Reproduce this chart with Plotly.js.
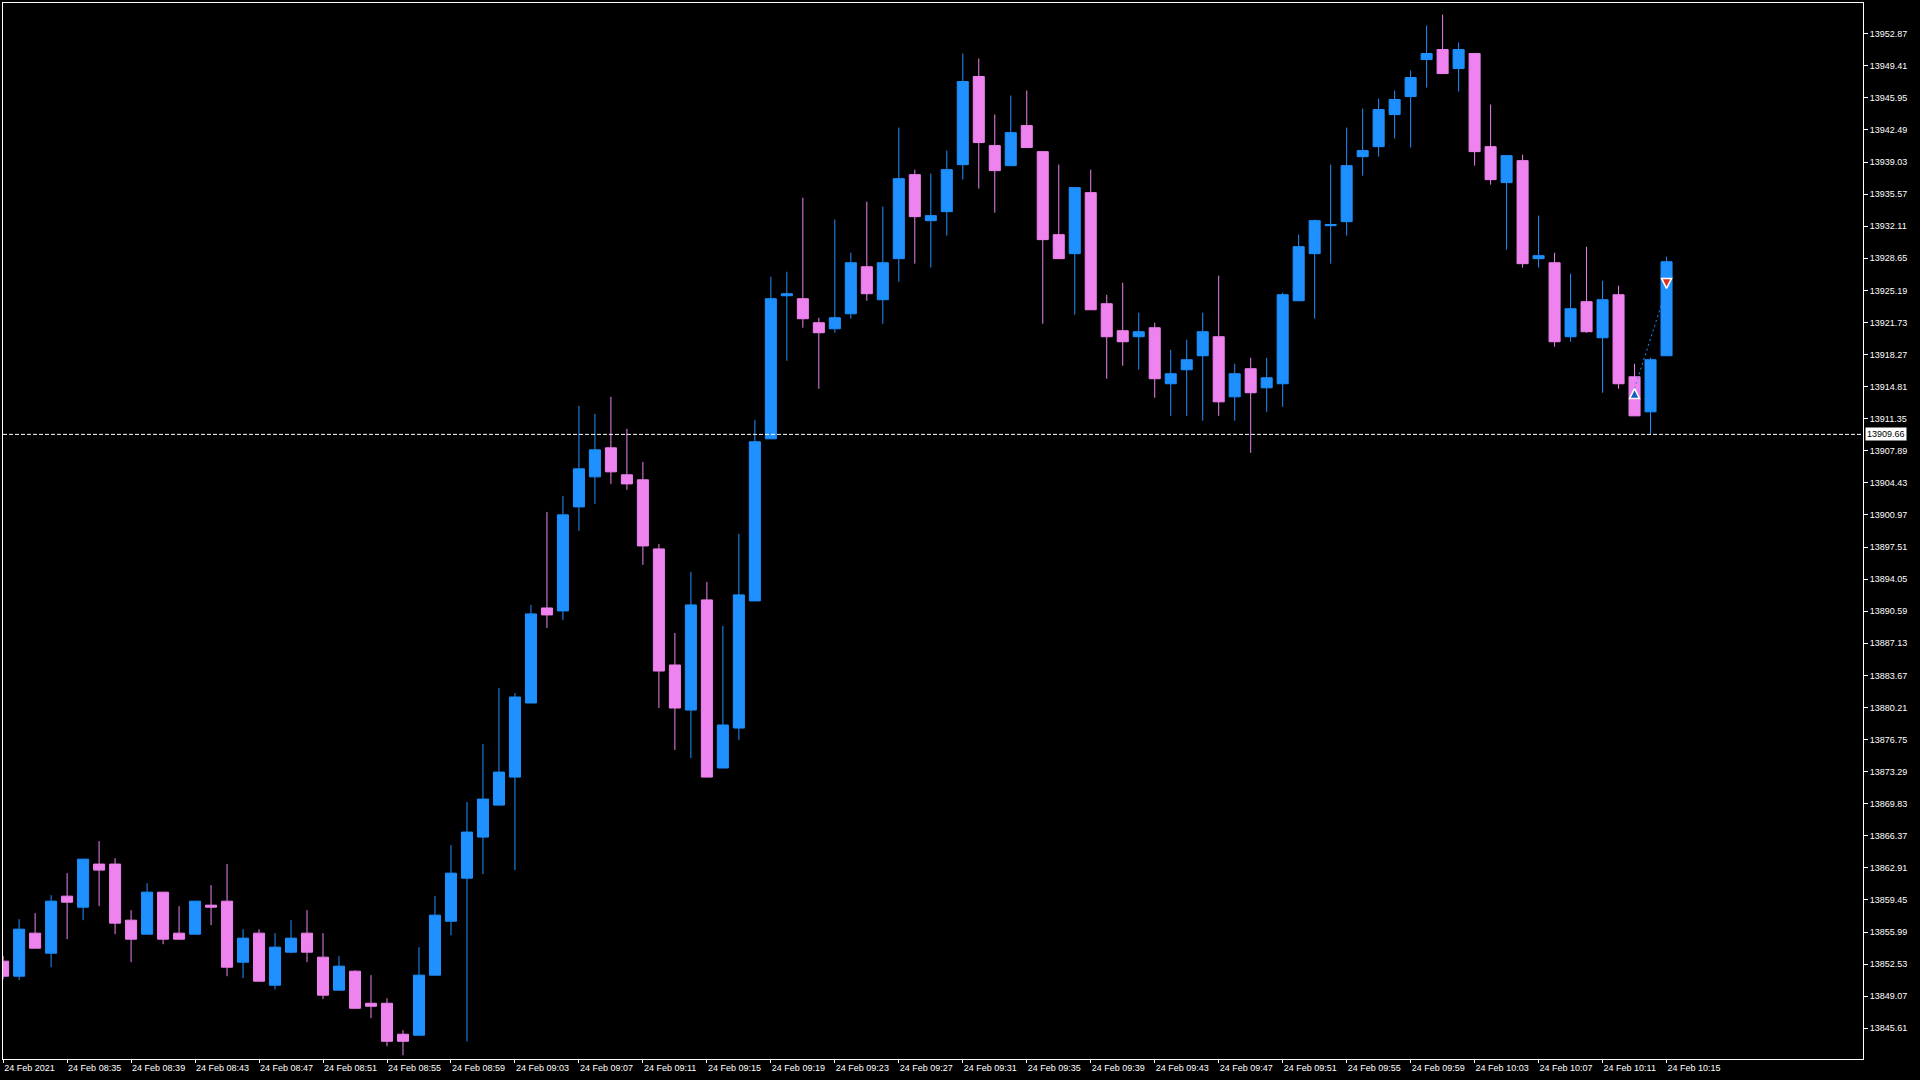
<!DOCTYPE html>
<html>
<head>
<meta charset="utf-8">
<script src="https://cdn.plot.ly/plotly-3.0.1.min.js"></script>
<style>
  html, body { margin: 0; padding: 0; background: #000; }
  #chart { width: 1920px; height: 1080px; }
</style>
</head>
<body>
<div id="chart"></div>
<script>
  // 1 minute bars, 24 Feb 2021 08:31 .. 10:15
  var startHour = 8, startMinute = 31;

  var opens = [13852.85,13851.23,13855.87,13853.71,13859.86,13858.67,13863.32,13863.32,13857.27,13855.76,
    13860.29,13855.87,13855.76,13858.89,13859.32,13852.74,13855.87,13850.26,13853.82,13855.87,
    13853.28,13849.72,13851.77,13848.31,13848.31,13844.97,13844.86,13851.34,13857.16,13861.80,
    13866.23,13869.68,13872.70,13880.69,13890.94,13890.62,13901.84,13905.08,13908.21,13905.30,
    13904.76,13897.31,13884.79,13879.93,13891.81,13873.68,13877.99,13891.70,13909.18,13924.61,
    13924.29,13921.70,13921.05,13922.67,13927.74,13924.18,13928.61,13937.67,13932.71,13933.68,
    13938.75,13948.25,13940.80,13938.64,13942.96,13940.15,13931.20,13929.15,13935.73,13923.75,
    13920.84,13920.19,13921.16,13915.12,13916.63,13918.14,13920.19,13913.71,13916.74,13914.68,
    13915.12,13924.07,13929.15,13932.17,13932.60,13939.61,13940.69,13944.15,13946.09,13950.08,
    13951.16,13949.11,13950.73,13940.69,13936.81,13939.18,13928.61,13928.17,13920.19,13923.97,
    13920.08,13924.72,13915.87,13912.09,13918.14];

  var highs = [13853.39,13857.38,13858.03,13859.97,13862.34,13863.85,13865.80,13863.96,13858.35,13861.26,
    13860.29,13858.78,13859.32,13861.05,13863.32,13856.30,13856.30,13855.87,13857.27,13858.35,
    13855.87,13853.39,13851.88,13851.34,13848.85,13845.40,13854.36,13859.86,13865.37,13870.01,
    13876.27,13882.31,13881.77,13891.27,13901.30,13903.03,13912.74,13911.88,13913.71,13910.26,
    13906.70,13897.85,13888.24,13894.83,13893.75,13889.00,13898.93,13911.23,13926.66,13927.20,
    13935.19,13922.24,13932.82,13929.25,13934.76,13934.22,13942.74,13938.21,13937.78,13940.26,
    13950.73,13950.19,13944.15,13946.20,13946.74,13940.15,13938.75,13936.27,13938.21,13924.72,
    13926.02,13922.78,13921.70,13918.79,13919.87,13922.78,13926.77,13917.28,13917.92,13917.92,
    13924.94,13931.20,13932.82,13938.75,13942.74,13944.79,13945.87,13946.74,13948.90,13953.75,
    13954.94,13951.92,13950.73,13945.23,13939.72,13939.83,13933.25,13929.25,13926.99,13929.90,
    13926.23,13925.69,13917.28,13917.92,13928.82];

  var lows = [13850.90,13850.80,13854.25,13852.20,13855.22,13857.27,13858.78,13855.76,13852.74,13855.76,
    13854.68,13855.22,13855.76,13856.73,13851.23,13851.01,13850.69,13849.82,13853.71,13852.74,
    13848.75,13849.72,13847.77,13846.70,13843.67,13842.70,13844.86,13851.34,13855.65,13844.21,
    13862.24,13869.68,13862.67,13880.69,13888.78,13889.65,13899.25,13902.17,13904.32,13903.68,
    13895.58,13880.15,13875.62,13874.75,13872.70,13873.68,13876.70,13891.70,13909.18,13917.60,
    13921.16,13914.58,13920.62,13922.13,13924.07,13921.59,13926.12,13928.07,13927.64,13931.09,
    13937.13,13936.16,13933.57,13938.64,13940.59,13921.59,13928.61,13922.56,13923.10,13915.66,
    13917.06,13916.63,13913.61,13911.66,13911.66,13911.12,13911.66,13911.12,13907.67,13912.09,
    13912.63,13924.07,13922.13,13928.07,13931.09,13937.56,13939.61,13941.56,13940.59,13947.06,
    13948.57,13946.63,13938.64,13936.59,13929.58,13927.64,13927.64,13919.11,13919.65,13920.62,
    13914.15,13914.58,13911.66,13909.61,13918.14];

  var closes = [13851.23,13856.30,13854.25,13859.32,13859.21,13863.85,13862.67,13856.95,13855.22,13860.29,
    13855.22,13855.22,13859.32,13858.67,13852.20,13855.33,13850.69,13854.36,13855.33,13853.82,
    13849.18,13852.31,13847.77,13847.99,13844.21,13844.21,13851.34,13857.81,13862.34,13866.77,
    13870.33,13873.24,13881.34,13890.30,13890.19,13900.98,13905.94,13907.99,13905.62,13904.32,
    13897.63,13884.14,13880.15,13891.27,13872.70,13878.32,13892.35,13908.86,13924.29,13924.83,
    13922.13,13920.62,13922.24,13928.17,13924.83,13928.17,13937.24,13933.14,13933.25,13938.21,
    13947.71,13941.13,13938.10,13942.20,13940.59,13930.66,13928.61,13936.27,13923.10,13920.19,
    13919.65,13920.73,13915.66,13916.20,13917.71,13920.73,13913.17,13916.20,13914.15,13915.76,
    13924.72,13929.90,13932.71,13932.28,13938.64,13940.26,13944.69,13945.77,13948.14,13950.73,
    13948.57,13951.16,13940.15,13937.13,13939.72,13928.07,13928.93,13919.65,13923.21,13920.73,
    13924.18,13915.12,13911.66,13917.71,13928.28];

  var tickTimes = ['08:31','08:35','08:39','08:43','08:47','08:51','08:55','08:59','09:03','09:07',
    '09:11','09:15','09:19','09:23','09:27','09:31','09:35','09:39','09:43','09:47','09:51','09:55',
    '09:59','10:03','10:07','10:11','10:15'];
  var tickText = ['24 Feb 2021','24 Feb 08:35','24 Feb 08:39','24 Feb 08:43','24 Feb 08:47','24 Feb 08:51',
    '24 Feb 08:55','24 Feb 08:59','24 Feb 09:03','24 Feb 09:07','24 Feb 09:11','24 Feb 09:15','24 Feb 09:19',
    '24 Feb 09:23','24 Feb 09:27','24 Feb 09:31','24 Feb 09:35','24 Feb 09:39','24 Feb 09:43','24 Feb 09:47',
    '24 Feb 09:51','24 Feb 09:55','24 Feb 09:59','24 Feb 10:03','24 Feb 10:07','24 Feb 10:11','24 Feb 10:15'];

  var levelPrice = 13909.66;
  var tradeTimes = ['10:13', '10:15'];
  var tradePrices = [13914.60, 13925.40];

  function pad(n) { return (n < 10 ? '0' : '') + n; }
  function stamp(hhmm) { return '2021-02-24 ' + hhmm; }

  var times = [];
  for (var i = 0; i < opens.length; i++) {
    var m = startHour * 60 + startMinute + i;
    times.push(stamp(pad(Math.floor(m / 60)) + ':' + pad(m % 60)));
  }

  var bull = '#1E90FF', bear = '#EE82EE';

  var candles = {
    type: 'candlestick',
    x: times,
    open: opens,
    high: highs,
    low: lows,
    close: closes,
    increasing: { line: { color: bull, width: 1 }, fillcolor: bull },
    decreasing: { line: { color: bear, width: 1 }, fillcolor: bear },
    whiskerwidth: 0,
    hoverinfo: 'none'
  };

  var tradeLine = {
    type: 'scatter',
    mode: 'lines',
    x: tradeTimes.map(stamp),
    y: tradePrices,
    line: { color: '#1E90FF', width: 1, dash: '2px,3px' },
    hoverinfo: 'none'
  };

  var buyMark = {
    type: 'scatter',
    mode: 'markers',
    x: [stamp(tradeTimes[0])],
    y: [tradePrices[0]],
    marker: { symbol: 'arrow-up', size: 10, color: '#1560BD', line: { color: '#fff', width: 1.5 } },
    hoverinfo: 'none'
  };

  var sellMark = {
    type: 'scatter',
    mode: 'markers',
    x: [stamp(tradeTimes[1])],
    y: [tradePrices[1]],
    marker: { symbol: 'arrow-down', size: 10, color: '#E0301E', line: { color: '#fff', width: 1.5 } },
    hoverinfo: 'none'
  };

  var axisFont = { family: 'Liberation Sans, Arial, sans-serif', size: 9, color: '#ffffff' };

  var layout = {
    width: 1920,
    height: 1080,
    paper_bgcolor: '#000000',
    plot_bgcolor: '#000000',
    margin: { l: 3, r: 57, t: 3, b: 21 },
    showlegend: false,
    hovermode: false,
    boxgap: 0.31,
    boxgroupgap: 0,
    xaxis: {
      type: 'date',
      range: ['2021-02-24 08:30:59.5', '2021-02-24 10:27:17'],
      tickmode: 'array',
      tickvals: tickTimes.map(stamp),
      ticktext: tickText,
      ticks: 'outside',
      ticklen: 3,
      tickcolor: '#ffffff',
      ticklabelposition: 'outside right',
      tickfont: axisFont,
      showgrid: false,
      zeroline: false,
      showline: true,
      mirror: true,
      linecolor: '#ffffff',
      linewidth: 1,
      rangeslider: { visible: false },
      fixedrange: true
    },
    yaxis: {
      side: 'right',
      range: [13842.30, 13956.18],
      tick0: 13845.61,
      dtick: 3.46,
      tickformat: '.2f',
      ticks: 'outside',
      ticklen: 4,
      tickcolor: '#ffffff',
      tickfont: axisFont,
      showgrid: false,
      zeroline: false,
      showline: true,
      mirror: true,
      linecolor: '#ffffff',
      linewidth: 1,
      fixedrange: true
    },
    shapes: [{
      type: 'line',
      xref: 'paper', x0: 0, x1: 1,
      yref: 'y', y0: levelPrice, y1: levelPrice,
      line: { color: '#ffffff', width: 1, dash: '4px,2px' }
    }],
    annotations: [{
      xref: 'paper', x: 1, xanchor: 'left', xshift: 2,
      yref: 'y', y: levelPrice, yanchor: 'middle',
      text: levelPrice.toFixed(2),
      showarrow: false,
      bgcolor: '#ffffff',
      borderpad: 1,
      font: { family: 'Liberation Sans, Arial, sans-serif', size: 9, color: '#000000' }
    }]
  };

  Plotly.newPlot('chart', [candles, tradeLine, buyMark, sellMark], layout, { displayModeBar: false, staticPlot: true });
</script>
</body>
</html>
